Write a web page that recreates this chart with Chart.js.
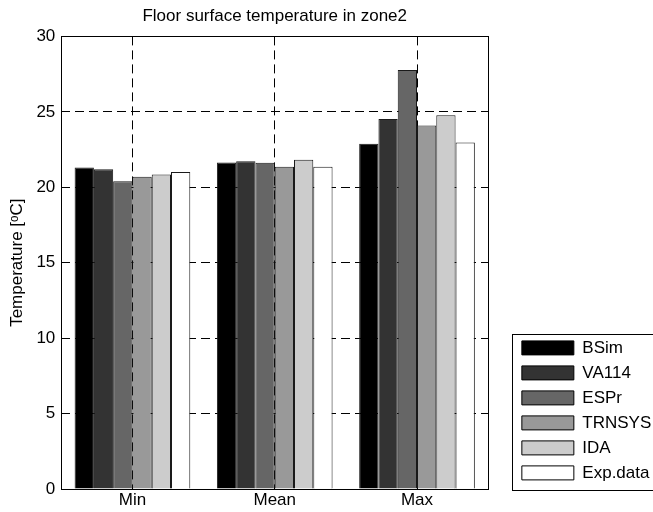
<!DOCTYPE html>
<html>
<head>
<meta charset="utf-8">
<script src="https://cdn.jsdelivr.net/npm/chart.js@4/dist/chart.umd.min.js"></script>
<style>
  body { margin: 0; background: #fff; }
  #wrap { width: 653px; height: 512px; }
</style>
</head>
<body>
<div id="wrap"><canvas id="myChart" width="653" height="512"></canvas></div>
<script>
'use strict';
// data
var categories = ['Min', 'Mean', 'Max'];
var seriesNames = ['BSim', 'VA114', 'ESPr', 'TRNSYS', 'IDA', 'Exp.data'];
var bsim   = [21.31, 21.64, 22.89];
var va114  = [21.20, 21.73, 24.53];
var espr   = [20.40, 21.62, 27.78];
var trnsys = [20.69, 21.36, 24.09];
var ida    = [20.84, 21.82, 24.78];
var expData = [21.02, 21.36, 22.96];
var yTicks = [0, 5, 10, 15, 20, 25, 30];

var fills = ['#000000', '#333333', '#666666', '#999999', '#cccccc', '#ffffff'];
var allValues = [bsim, va114, espr, trnsys, ida, expData];

var FONT = 'Liberation Sans, Arial, sans-serif';

// box around plot area
var framePlugin = {
  id: 'frame',
  afterDatasetsDraw: function(chart) {
    var a = chart.chartArea, ctx = chart.ctx;
    ctx.save();
    ctx.strokeStyle = '#000';
    ctx.lineWidth = 1;
    ctx.setLineDash([]);
    ctx.strokeRect(Math.round(a.left) + 0.5, Math.round(a.top) + 0.5,
      Math.round(a.right - a.left), Math.round(a.bottom - a.top));
    ctx.restore();
  }
};

// move the legend out from the plot, and put a box round it
var legendBoxPlugin = {
  id: 'legendBox',
  afterLayout: function(chart) {
    var lg = chart.legend;
    var dx = 25.7, dy = -22;
    lg.left += dx; lg.right += dx;
    lg.top += dy; lg.bottom += dy;
  },
  afterDraw: function(chart) {
    var lg = chart.legend, hb = lg.legendHitBoxes;
    if (!hb || !hb.length) return;
    var ctx = chart.ctx;
    var last = hb[hb.length - 1];
    var x0 = Math.round(hb[0].left - 10) + 0.5;
    var y0 = Math.round(hb[0].top - 5) + 0.5;
    var y1 = Math.round(last.top + last.height + 9) + 0.5;
    ctx.save();
    ctx.strokeStyle = '#000';
    ctx.lineWidth = 1;
    ctx.strokeRect(x0, y0, 700 - x0, y1 - y0);
    ctx.restore();
  }
};

var ctx = document.getElementById('myChart');
var myChart = new Chart(ctx, {
  type: 'bar',
  data: {
    labels: categories,
    datasets: seriesNames.map(function(name, i) {
      return {
        label: name,
        data: allValues[i],
        backgroundColor: fills[i],
        borderColor: '#1a1a1a',
        borderWidth: 1,
        borderSkipped: 'start',
        categoryPercentage: 0.813,
        barPercentage: 1.0
      };
    })
  },
  options: {
    responsive: false,
    animation: false,
    events: [],
    layout: { padding: { left: 0, right: 17.4, top: 0, bottom: 0.6 } },
    plugins: {
      title: {
        display: true,
        fullSize: false,
        text: 'Floor surface temperature in zone2',
        color: '#000',
        font: { family: FONT, size: 17, weight: 'normal' },
        padding: { top: 6, bottom: 10 }
      },
      legend: {
        position: 'right',
        align: 'end',
        labels: {
          color: '#000',
          font: { family: FONT, size: 17 },
          boxWidth: 52,
          boxHeight: 14,
          padding: 8,
          generateLabels: function(chart) {
            return chart.data.datasets.map(function(ds, i) {
              return {
                text: ds.label,
                fillStyle: ds.backgroundColor,
                strokeStyle: '#000',
                lineWidth: 1,
                datasetIndex: i
              };
            });
          }
        }
      },
      tooltip: { enabled: false }
    },
    scales: {
      x: {
        grid: {
          display: true,
          offset: false,
          color: '#000',
          lineWidth: 1,
          drawTicks: false
        },
        border: { display: false, dash: [9, 5] },
        ticks: {
          color: '#000',
          font: { family: FONT, size: 17 },
          padding: 1
        }
      },
      y: {
        min: 0,
        max: 30,
        afterBuildTicks: function(axis) {
          axis.ticks = yTicks.map(function(v) { return { value: v }; });
        },
        grid: {
          color: '#000',
          lineWidth: 1,
          drawTicks: false
        },
        border: { display: false, dash: [9, 5] },
        ticks: {
          color: '#000',
          font: { family: FONT, size: 17 },
          padding: 6
        },
        title: {
          display: true,
          text: 'Temperature [\u1D52C]',
          color: '#000',
          font: { family: FONT, size: 17 },
          padding: { top: 7, bottom: 3 }
        }
      }
    }
  },
  plugins: [framePlugin, legendBoxPlugin]
});
</script>
</body>
</html>
